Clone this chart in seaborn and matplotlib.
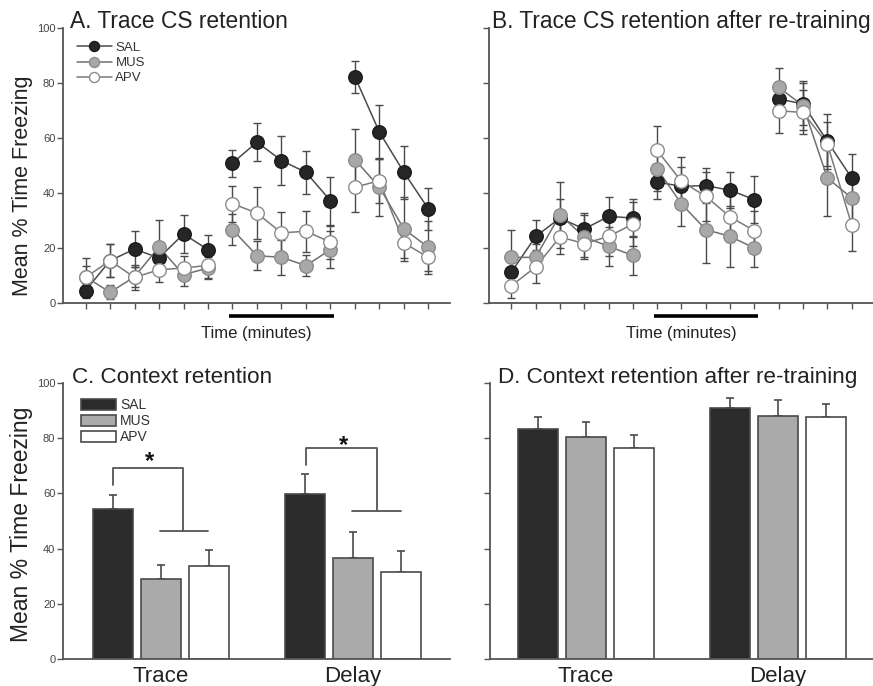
import numpy as np
import pandas as pd
import matplotlib
matplotlib.use("Agg")
import matplotlib.pyplot as plt
import matplotlib.transforms as mtransforms
from matplotlib.lines import Line2D
from matplotlib.patches import Patch
import seaborn as sns

# ---------------- data ----------------
groups = ["SAL", "MUS", "APV"]
segments = [0, 0, 0, 0, 0, 0, 1, 1, 1, 1, 1, 2, 2, 2, 2]

sal_a = [4.5, 15.4, 19.6, 16.4, 25.1, 19.4, 50.9, 58.5, 51.8, 47.5, 37.2, 82.2, 62.1, 47.5, 34.2]
sal_a_err = [2.5, 6, 6.5, 5, 7, 5.5, 4.9, 7, 8.8, 7.7, 8.8, 5.7, 9.8, 9.5, 7.6]
mus_a = [9.5, 3.9, 9.5, 20.4, 10.3, 12.7, 26.7, 17.2, 16.6, 13.6, 19.4, 52.1, 42.1, 26.9, 20.2]
mus_a_err = [4, 2.5, 3.5, 9.7, 4, 4, 5.5, 5.3, 6.3, 3.7, 6.7, 11, 10.6, 11.7, 9.5]
apv_a = [9.3, 15.4, 9.3, 12.1, 12.7, 13.7, 36.1, 32.7, 25.5, 26.1, 22.1, 42.1, 44.5, 21.8, 16.6]
apv_a_err = [7, 6, 4.5, 4.5, 4.5, 4.5, 6.6, 9.5, 7.5, 7.5, 6, 9, 8, 5.5, 5]

sal_b = [11.2, 24.2, 30.9, 26.9, 31.5, 30.9, 44.0, 42.4, 42.7, 41.0, 37.6, 74.2, 72.4, 58.8, 45.5]
sal_b_err = [5, 6, 7, 6, 7, 7, 6, 7, 6.5, 6.5, 8.5, 6, 7.5, 10, 8.7]
mus_b = [16.6, 16.6, 32.1, 24.0, 20.6, 17.3, 48.8, 36.0, 26.7, 24.2, 20.0, 78.4, 71.8, 45.5, 38.2]
mus_b_err = [10, 5, 12, 8, 7, 7, 8, 8, 12, 11, 7, 7, 9, 13.7, 9]
apv_b = [6.3, 13.1, 24.0, 21.6, 24.2, 28.7, 55.5, 44.2, 38.8, 31.3, 26.3, 69.9, 69.3, 57.9, 28.5]
apv_b_err = [4.5, 6, 6, 5, 7, 8, 8.7, 9, 9, 9, 7, 8, 8, 8, 9.7]

conditions = ["Trace", "Delay"]
ctx_sal = [54.3, 59.7]
ctx_sal_err = [5.0, 7.3]
ctx_mus = [29.0, 36.6]
ctx_mus_err = [4.9, 9.3]
ctx_apv = [33.6, 31.6]
ctx_apv_err = [6.0, 7.4]

re_sal = [83.3, 91.1]
re_sal_err = [4.4, 3.3]
re_mus = [80.4, 88.2]
re_mus_err = [5.3, 5.5]
re_apv = [76.4, 87.8]
re_apv_err = [4.7, 4.7]

y_ticks = [0, 20, 40, 60, 80, 100]

# ---------------- style ----------------
sns.set_theme(style="ticks")
plt.rcParams["font.family"] = ["Liberation Sans", "DejaVu Sans"]
AX_COL = "#555555"
TXT_COL = "#222222"

marker_face = {"SAL": "#262626", "MUS": "#a8a8a8", "APV": "#ffffff"}
marker_edge = {"SAL": "#1a1a1a", "MUS": "#8c8c8c", "APV": "#8c8c8c"}
line_col = {"SAL": "#4a4a4a", "MUS": "#707070", "APV": "#7a7a7a"}
bar_face = {"SAL": "#2b2b2b", "MUS": "#aaaaaa", "APV": "#ffffff"}

fig = plt.figure(figsize=(8.73, 6.86), dpi=100)
W, H = 873, 686


def add_ax(l, r, t, b):
    return fig.add_axes([l / W, 1 - b / H, (r - l) / W, (b - t) / H])


axA = add_ax(63, 450, 28, 303)
axB = add_ax(489, 873, 28, 303)
axC = add_ax(63, 450, 383, 659)
axD = add_ax(490, 873, 383, 659)


def style_axis(ax, ylabels=True):
    for s in ["top", "right"]:
        ax.spines[s].set_visible(False)
    for s in ["left", "bottom"]:
        ax.spines[s].set_color(AX_COL)
        ax.spines[s].set_linewidth(1.3)
    ax.set_ylim(0, 100)
    ax.set_yticks(y_ticks)
    ax.tick_params(axis="both", direction="out", length=4, width=1.0,
                   color=AX_COL, labelcolor="#444444", labelsize=8, pad=1.5)
    if not ylabels:
        ax.set_yticklabels([])
    ax.set_facecolor("white")


def line_panel(ax, series, errs, title, title_x, ylabels):
    rows = []
    for g, vals in zip(groups, series):
        for i, v in enumerate(vals):
            rows.append({"x": i, "value": v, "group": g, "seg": segments[i]})
    df = pd.DataFrame(rows)
    # error bars
    for k, (g, vals, e) in enumerate(zip(groups, series, errs)):
        ax.errorbar(np.arange(len(vals)), vals, yerr=e, fmt="none",
                    ecolor="#4a4a4a", elinewidth=1.0, capsize=3, capthick=1.0,
                    zorder=1.5)
    # lines
    sns.lineplot(data=df, x="x", y="value", hue="group", units="seg",
                 estimator=None, palette=line_col, hue_order=groups,
                 linewidth=1.1, legend=False, ax=ax, zorder=2)
    # markers
    for k, g in enumerate(groups):
        sns.scatterplot(data=df[df.group == g], x="x", y="value",
                        color=marker_face[g], edgecolor=marker_edge[g],
                        linewidth=1.0, s=95, legend=False, ax=ax,
                        zorder=3 + k)
    style_axis(ax, ylabels)
    ax.set_xlim(-0.92, 14.88)
    ax.set_xticks(np.arange(15))
    ax.set_xticklabels([])
    ax.set_xlabel("Time (minutes)", fontsize=12, color=TXT_COL, labelpad=11)
    ax.set_ylabel("Mean % Time Freezing" if ylabels else "", fontsize=15.5,
                  color=TXT_COL, labelpad=3)
    ax.yaxis.label.set_y(0.425)
    ax.text(title_x, 1.0, title, transform=ax.transAxes, fontsize=16.4,
            color=TXT_COL, va="baseline", ha="left")
    # CS bar below the axis
    trans = mtransforms.blended_transform_factory(ax.transData, ax.transAxes)
    ax.plot([5.85, 10.15], [-0.047, -0.047], transform=trans, color="black",
            lw=2.6, clip_on=False, solid_capstyle="butt")


line_panel(axA, [sal_a, mus_a, apv_a], [sal_a_err, mus_a_err, apv_a_err],
           "A. Trace CS retention", 0.018, True)
line_panel(axB, [sal_b, mus_b, apv_b], [sal_b_err, mus_b_err, apv_b_err],
           "B. Trace CS retention after re-training", 0.008, False)

leg_handles = [Line2D([0], [0], color=line_col[g], lw=1.1, marker="o",
                      markersize=7.2, markerfacecolor=marker_face[g],
                      markeredgecolor=marker_edge[g], markeredgewidth=1.0)
               for g in groups]
axA.legend(leg_handles, groups, loc="upper left", bbox_to_anchor=(0.035, 0.95),
           frameon=False, fontsize=9.5, handlelength=2.65, handletextpad=0.3,
           labelspacing=0.22, borderpad=0, borderaxespad=0, labelcolor="#333333")


def bar_panel(ax, vals, errs, title, title_x, ylabels, xlim):
    rows = []
    for g, v in zip(groups, vals):
        for c, val in zip(conditions, v):
            rows.append({"cond": c, "group": g, "value": val})
    df = pd.DataFrame(rows)
    sns.barplot(data=df, x="cond", y="value", hue="group", order=conditions,
                hue_order=groups, palette=bar_face, edgecolor="#4a4a4a",
                linewidth=1.2, width=0.75, gap=0.17, errorbar=None,
                legend=False, ax=ax, zorder=2)
    bars = sorted(ax.patches, key=lambda p: p.get_x())
    err_flat = [errs[gi][ci] for ci in range(len(conditions)) for gi in range(len(groups))]
    xs = [p.get_x() + p.get_width() / 2 for p in bars]
    hs = [p.get_height() for p in bars]
    ax.errorbar(xs, hs, yerr=[np.zeros(len(hs)), err_flat], fmt="none",
                ecolor="#4a4a4a", elinewidth=1.2, capsize=3, capthick=1.2,
                zorder=1.5)
    style_axis(ax, ylabels)
    ax.set_xlim(*xlim)
    ax.tick_params(axis="x", length=0, labelsize=16, labelcolor=TXT_COL, pad=5)
    ax.set_xlabel("")
    ax.set_ylabel("Mean % Time Freezing" if ylabels else "", fontsize=16.5,
                  color=TXT_COL, labelpad=3)
    ax.yaxis.label.set_y(0.489)
    ax.text(title_x, 1.0, title, transform=ax.transAxes, fontsize=16.2,
            color=TXT_COL, va="baseline", ha="left")


bar_panel(axC, [ctx_sal, ctx_mus, ctx_apv], [ctx_sal_err, ctx_mus_err, ctx_apv_err],
          "C. Context retention", 0.023, True, (-0.51, 1.505))
bar_panel(axD, [re_sal, re_mus, re_apv], [re_sal_err, re_mus_err, re_apv_err],
          "D. Context retention after re-training", 0.02, False, (-0.5, 1.495))

leg_patches = [Patch(facecolor=bar_face[g], edgecolor="#4a4a4a", linewidth=1.2)
               for g in groups]
axC.legend(leg_patches, groups, loc="upper left", bbox_to_anchor=(0.047, 0.945),
           frameon=False, fontsize=10, handlelength=2.5, handleheight=0.85,
           handletextpad=0.3, labelspacing=0.15, borderpad=0, borderaxespad=0,
           labelcolor="#333333")

# significance brackets (annotation)
brackets = [
    # x_left, y_left_start, y_top, x_right, y_right_end, (hx0, hx1), star_x, star_y
    (-0.25, 63.2, 69.2, 0.115, 46.3, (-0.005, 0.245), -0.06, 67.3),
    (0.755, 70.4, 76.4, 1.125, 53.5, (0.995, 1.25), 0.948, 73.3),
]
for xl, yl0, yt, xr, yr, (h0, h1), sx, sy in brackets:
    axC.plot([xl, xl, xr, xr], [yl0, yt, yt, yr], color="#555555", lw=1.3,
             zorder=3, clip_on=False)
    axC.plot([h0, h1], [yr, yr], color="#555555", lw=1.3, zorder=3)
    axC.text(sx, sy, "*", fontsize=17, ha="center", va="bottom",
             color="#111111", fontweight="bold")

fig.savefig("out.png", dpi=100, facecolor="white")
